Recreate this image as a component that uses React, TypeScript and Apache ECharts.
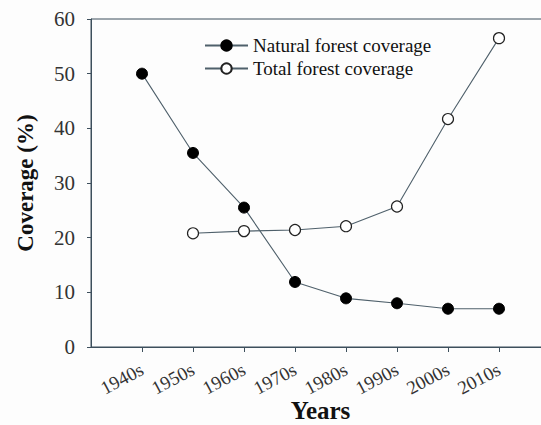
import React, { useEffect, useRef } from "react";
import * as echarts from "echarts";

const categories = ["1940s", "1950s", "1960s", "1970s", "1980s", "1990s", "2000s", "2010s"];
const naturalForest = [50, 35.5, 25.5, 11.9, 8.9, 8.0, 7.0, 7.0];
const totalForest: (number | null)[] = [null, 20.8, 21.2, 21.4, 22.1, 25.7, 41.7, 56.5];
const yTicks = { min: 0, max: 60, interval: 10 };

const FONT = "Liberation Serif";
const LINE = "#4f606b";
const AXIS = "#3d4f5c";

export default function App() {
  const ref = useRef<HTMLDivElement>(null);
  useEffect(() => {
    if (!ref.current) return;
    const chart = echarts.init(ref.current, undefined, { renderer: "svg" });
    const idx = categories.map((_, i) => i);
    const toPairs = (arr: (number | null)[]) =>
      arr.map((v, i) => (v == null ? null : [i, v])).filter((p) => p !== null) as number[][];
    chart.setOption({
      animation: false,
      backgroundColor: "#fdfdfd",
      grid: {
        left: 91,
        top: 19,
        bottom: 78,
        right: -9,
        outerBoundsMode: "none",
        containLabel: false,
        show: true,
        borderColor: AXIS,
        borderWidth: 1,
        backgroundColor: "transparent",
      },
      legend: {
        orient: "vertical",
        left: 204,
        top: 36,
        padding: 0,
        itemWidth: 43,
        itemHeight: 13,
        itemGap: 4,
        textStyle: { fontFamily: FONT, fontSize: 19, color: "#111", lineHeight: 19 },
        data: ["Natural forest coverage", "Total forest coverage"],
      },
      xAxis: {
        type: "value",
        min: -1,
        max: 8,
        interval: 1,
        splitLine: { show: false },
        axisLine: { show: true, onZero: false, lineStyle: { color: AXIS, width: 1 } },
        axisTick: { show: true, inside: false, length: 5, lineStyle: { color: AXIS }, customValues: idx },
        axisLabel: {
          customValues: idx,
          formatter: (v: number) => categories[Math.round(v)] ?? "",
          rotate: 28,
          margin: 21,
          fontFamily: FONT,
          fontSize: 19,
          color: "#333",
        },
        name: "Years",
        nameLocation: "middle",
        nameGap: 50,
        nameMoveOverlap: false,
        nameTextStyle: { fontFamily: FONT, fontSize: 25, lineHeight: 26, fontWeight: "bold", color: "#111" },
      },
      yAxis: {
        type: "value",
        min: yTicks.min,
        max: yTicks.max,
        interval: yTicks.interval,
        splitLine: { show: false },
        axisLine: { show: true, onZero: false, lineStyle: { color: AXIS, width: 1 } },
        axisTick: { show: true, inside: false, length: 4, lineStyle: { color: AXIS } },
        axisLabel: { margin: 16, fontFamily: FONT, fontSize: 21, color: "#333" },
        name: "Coverage (%)",
        nameLocation: "middle",
        nameGap: 54,
        nameMoveOverlap: false,
        nameTextStyle: { fontFamily: FONT, fontSize: 23, fontWeight: "bold", color: "#111" },
      },
      series: [
        {
          name: "Natural forest coverage",
          type: "line",
          data: toPairs(naturalForest),
          symbol: "circle",
          symbolSize: 11,
          lineStyle: { color: LINE, width: 1.1 },
          itemStyle: { color: "#000", borderColor: "#000", borderWidth: 1 },
        },
        {
          name: "Total forest coverage",
          type: "line",
          data: toPairs(totalForest),
          symbol: "circle",
          symbolSize: 11,
          lineStyle: { color: LINE, width: 1.1 },
          itemStyle: { color: "#fff", borderColor: "#222", borderWidth: 1.2 },
        },
      ],
    });
    return () => chart.dispose();
  }, []);
  return (
    <div
      ref={ref}
      style={{ position: "fixed", left: 0, top: 0, width: 541, height: 425 }}
    />
  );
}
